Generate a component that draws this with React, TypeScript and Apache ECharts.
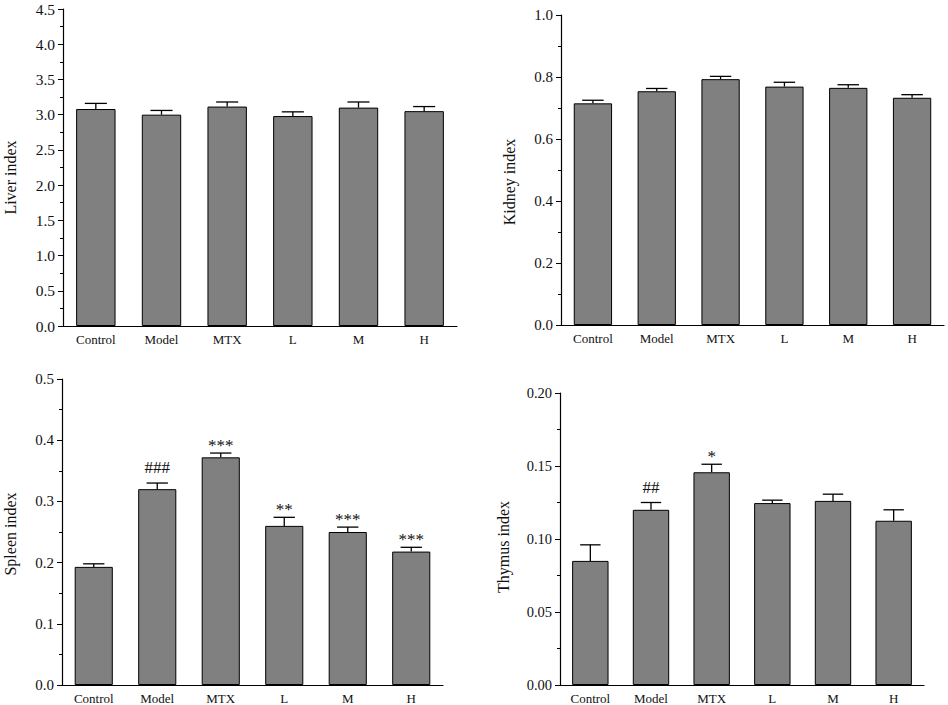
import React, { useEffect, useRef } from "react";
import * as echarts from "echarts";

const categories = ["Control", "Model", "MTX", "L", "M", "H"];

const liverMean = [3.08, 3.0, 3.115, 2.98, 3.1, 3.05];
const liverErr = [0.08, 0.06, 0.065, 0.06, 0.08, 0.065];
const liverMarks = ["", "", "", "", "", ""];

const kidneyMean = [0.715, 0.754, 0.793, 0.769, 0.765, 0.733];
const kidneyErr = [0.01, 0.009, 0.009, 0.014, 0.01, 0.01];
const kidneyMarks = ["", "", "", "", "", ""];

const spleenMean = [0.193, 0.32, 0.372, 0.26, 0.25, 0.218];
const spleenErr = [0.005, 0.01, 0.007, 0.014, 0.008, 0.007];
const spleenMarks = ["", "###", "***", "**", "***", "***"];

const thymusMean = [0.085, 0.12, 0.1457, 0.1246, 0.1261, 0.1125];
const thymusErr = [0.011, 0.005, 0.0055, 0.002, 0.0046, 0.0075];
const thymusMarks = ["", "##", "*", "", "", ""];

const panels = [
  { name: "Liver index", mean: liverMean, err: liverErr, marks: liverMarks, max: 4.5, interval: 0.5, digits: 1 },
  { name: "Kidney index", mean: kidneyMean, err: kidneyErr, marks: kidneyMarks, max: 1.0, interval: 0.2, digits: 1 },
  { name: "Spleen index", mean: spleenMean, err: spleenErr, marks: spleenMarks, max: 0.5, interval: 0.1, digits: 1 },
  { name: "Thymus index", mean: thymusMean, err: thymusErr, marks: thymusMarks, max: 0.2, interval: 0.05, digits: 2 },
];

const grids = [
  { left: 63, top: 9, width: 394, height: 317, nameGap: 45, shift: 20, tickFont: 15.5 },
  { left: 561, top: 15, width: 383, height: 310, nameGap: 44, shift: 24, tickFont: 15 },
  { left: 62, top: 379, width: 381, height: 308, nameGap: 44, shift: 4, tickFont: 15 },
  { left: 560, top: 393, width: 364, height: 294, nameGap: 49, shift: 16, tickFont: 14.5 },
];

const FONT = "Liberation Serif";
const TXT = "#111";

export default function App() {
  const ref = useRef<HTMLDivElement>(null);
  useEffect(() => {
    document.body.style.margin = "0";
    if (!ref.current) return;
    const chart = echarts.init(ref.current, null, { renderer: "svg" });
    const series: any[] = [];
    panels.forEach((p, k) => {
      series.push({
        type: "bar",
        xAxisIndex: k,
        yAxisIndex: k,
        data: p.mean,
        barWidth: "60%",
        itemStyle: { color: "#808080", borderColor: "#000", borderWidth: 1 },
        z: 2,
      });
      series.push({
        type: "custom",
        xAxisIndex: k,
        yAxisIndex: k,
        z: 3,
        data: p.mean.map((m, i) => [i, m, p.err[i]]),
        encode: { x: 0, y: 1 },
        renderItem: (params: any, api: any) => {
          const i = api.value(0);
          const m = api.value(1);
          const e = api.value(2);
          const top = api.coord([i, m]);
          const et = api.coord([i, m + e]);
          const bw = api.size([1, 0])[0];
          const half = bw * 0.6 * 0.28;
          const children: any[] = [
            { type: "line", shape: { x1: top[0], y1: top[1], x2: et[0], y2: et[1] }, style: { stroke: "#000", lineWidth: 1.3 } },
            { type: "line", shape: { x1: et[0] - half, y1: et[1], x2: et[0] + half, y2: et[1] }, style: { stroke: "#000", lineWidth: 1.3 } },
          ];
          const mark = p.marks[params.dataIndex];
          if (mark) {
            const isHash = mark.indexOf("#") >= 0;
            children.push({
              type: "text",
              style: {
                text: mark,
                x: et[0],
                y: et[1] - (isHash ? 7 : -1),
                align: "center",
                verticalAlign: "bottom",
                fontSize: 17,
                fontFamily: FONT,
                fill: TXT,
              },
            });
          }
          return { type: "group", children };
        },
      });
    });

    chart.setOption({
      animation: false,
      grid: grids.map((g) => ({ left: g.left, top: g.top, width: g.width, height: g.height })),
      xAxis: panels.map((p, k) => ({
        type: "category",
        gridIndex: k,
        data: categories,
        axisLine: { lineStyle: { color: "#000", width: 1.2 } },
        axisTick: { show: false },
        axisLabel: { color: TXT, fontSize: 13, fontFamily: FONT, margin: 7, interval: 0 },
      })),
      yAxis: panels.map((p, k) => ({
        type: "value",
        gridIndex: k,
        min: 0,
        max: p.max,
        interval: p.interval,
        name: p.name,
        nameLocation: "middle",
        nameGap: grids[k].nameGap,
        nameTextStyle: { color: TXT, fontSize: 16, fontFamily: FONT, padding: [0, grids[k].shift, 0, 0] },
        axisLine: { show: true, lineStyle: { color: "#000", width: 1.2 } },
        axisTick: { show: true, length: 5, lineStyle: { color: "#000" } },
        minorTick: { show: true, splitNumber: 2, length: 3, lineStyle: { color: "#000" } },
        splitLine: { show: false },
        axisLabel: {
          color: TXT,
          fontSize: grids[k].tickFont,
          fontFamily: FONT,
          margin: 8,
          formatter: (v: number) => v.toFixed(p.digits),
        },
      })),
      series,
    });
    return () => chart.dispose();
  }, []);
  return <div ref={ref} style={{ width: 948, height: 705 }} />;
}
